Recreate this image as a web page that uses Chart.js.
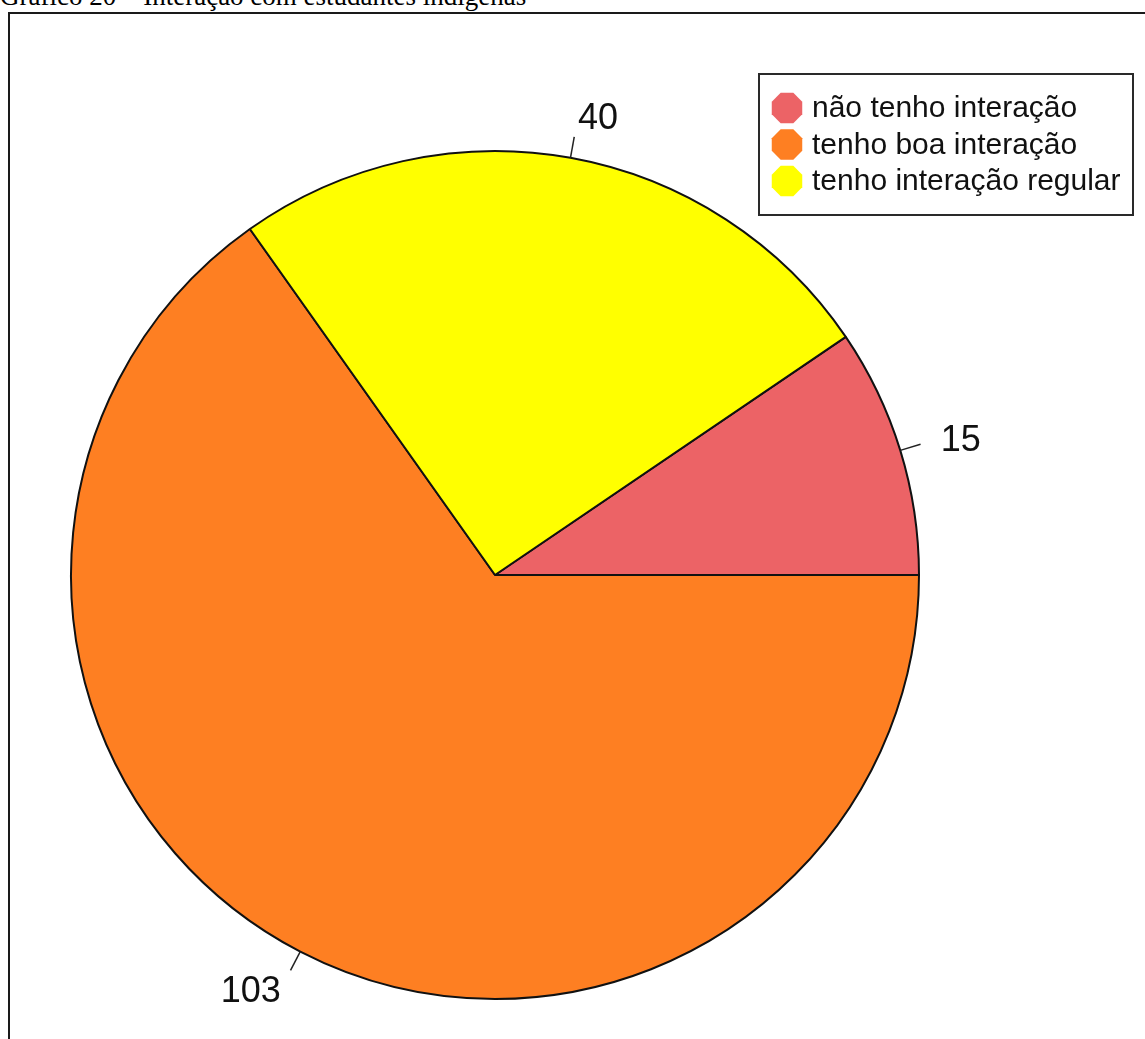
<!DOCTYPE html>
<html>
<head>
<meta charset="utf-8">
<script src="https://cdn.jsdelivr.net/npm/chart.js@4/dist/chart.umd.min.js"></script>
<style>
  html, body { margin: 0; padding: 0; background: #fff; overflow: hidden; }
  body { width: 1145px; height: 1039px; position: relative; }
  #titulo {
    position: absolute; left: 0; top: -17px;
    font-family: "Liberation Serif", "Times New Roman", serif;
    font-size: 27px; line-height: 27px; color: #000; white-space: nowrap;
  }
  #moldura {
    position: absolute; left: 8px; top: 12px; right: -10px; bottom: -10px;
    border-left: 2px solid #1a1a1a; border-top: 2px solid #1a1a1a;
  }
  #grafico { position: absolute; left: 0; top: 0; }
</style>
</head>
<body>
<div id="titulo">Gráfico 20 – Interação com estudantes indígenas</div>
<div id="moldura"></div>
<canvas id="grafico" width="1145" height="1039"></canvas>
<script>
const categorias = ['não tenho interação', 'tenho boa interação', 'tenho interação regular'];
const respostas = [15, 103, 40];
const cores = ['#EC6366', '#FE7F22', '#FFFF00'];

const total = respostas.reduce((a, b) => a + b, 0);
// first slice ends at 3 o'clock, the rest follow clockwise
const rotacao = 90 - 360 * respostas[0] / total;

const rotulosFatias = {
  id: 'rotulosFatias',
  afterDatasetsDraw(chart) {
    const ctx = chart.ctx;
    const arcs = chart.getDatasetMeta(0).data;
    ctx.save();
    ctx.strokeStyle = '#222';
    ctx.lineWidth = 1.5;
    ctx.fillStyle = '#111';
    ctx.font = '36px "Liberation Sans", Arial, sans-serif';
    ctx.textBaseline = 'middle';
    arcs.forEach((arc, i) => {
      const { x, y, startAngle, endAngle, outerRadius } = arc.getProps(['x', 'y', 'startAngle', 'endAngle', 'outerRadius'], true);
      const mid = (startAngle + endAngle) / 2;
      const c = Math.cos(mid), s = Math.sin(mid);
      ctx.beginPath();
      ctx.moveTo(x + c * outerRadius, y + s * outerRadius);
      ctx.lineTo(x + c * outerRadius * 1.05, y + s * outerRadius * 1.05);
      ctx.stroke();
      ctx.textAlign = c >= 0 ? 'left' : 'right';
      ctx.fillText(String(respostas[i]), x + c * outerRadius * 1.1, y + s * outerRadius * 1.1 + 3);
    });
    ctx.restore();
  }
};

const legendaCaixa = {
  id: 'legendaCaixa',
  afterDraw(chart) {
    const ctx = chart.ctx;
    ctx.save();
    ctx.strokeStyle = '#2a2a2a';
    ctx.lineWidth = 2;
    ctx.strokeRect(759, 74, 374, 141);
    ctx.font = '30px "Liberation Sans", Arial, sans-serif';
    ctx.textBaseline = 'middle';
    ctx.textAlign = 'left';
    categorias.forEach((nome, i) => {
      const cy = 108 + i * 36.5;
      const cx = 787;
      const r = 16.5;
      ctx.beginPath();
      for (let k = 0; k < 8; k++) {
        const a = Math.PI / 8 + k * Math.PI / 4;
        const px = cx + r * Math.cos(a), py = cy + r * Math.sin(a);
        if (k === 0) ctx.moveTo(px, py); else ctx.lineTo(px, py);
      }
      ctx.closePath();
      ctx.fillStyle = cores[i];
      ctx.fill();
      ctx.fillStyle = '#111';
      ctx.fillText(nome, 812, cy + 1);
    });
    ctx.restore();
  }
};

new Chart(document.getElementById('grafico').getContext('2d'), {
  type: 'pie',
  data: {
    labels: categorias,
    datasets: [{
      data: respostas,
      backgroundColor: cores,
      borderColor: '#111',
      borderWidth: 2,
      radius: 424
    }]
  },
  options: {
    responsive: false,
    animation: false,
    rotation: rotacao,
    layout: { padding: { left: 71, right: 226, top: 151, bottom: 40 } },
    plugins: {
      legend: { display: false },
      tooltip: { enabled: false }
    },
    events: []
  },
  plugins: [rotulosFatias, legendaCaixa]
});
</script>
</body>
</html>
